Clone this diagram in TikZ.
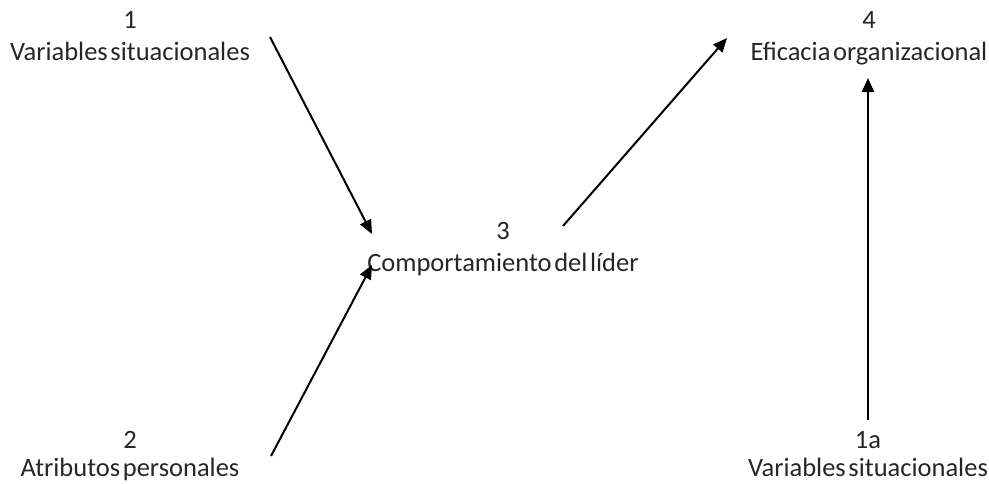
\documentclass[tikz,border=0pt]{standalone}
\usepackage{fontspec}
\setmainfont{Carlito}
\usetikzlibrary{arrows.meta}
\begin{document}
\begin{tikzpicture}[x=1pt,y=1pt,
  lbl/.style={inner sep=0pt,anchor=base,font=\fontsize{26.5}{31}\selectfont,text=black!85,
    execute at begin node={\spaceskip=0.1em\relax}},
  conn/.style={line width=2pt,-{Triangle[length=14pt,width=12pt]}}]
\useasboundingbox (0,0) rectangle (989,-483);
% labels
\node[lbl] (n1num) at (130,-28) {1};
\node[lbl] (n1) at (130,-60) {Variables situacionales};
\node[lbl] (n2num) at (130,-448) {2};
\node[lbl] (n2) at (130,-476) {Atributos personales};
\node[lbl] (n3num) at (503,-239) {3};
\node[lbl] (n3) at (503,-271) {Comportamiento del líder};
\node[lbl] (n4num) at (869,-28) {4};
\node[lbl] (n4) at (869,-60) {Eficacia organizacional};
\node[lbl] (n5num) at (868,-448) {1a};
\node[lbl] (n5) at (868,-476) {Variables situacionales};
% arrow end points
\coordinate (a1s) at (270,-37);
\coordinate (a1e) at (372,-234);
\coordinate (a2s) at (271,-456);
\coordinate (a2e) at (372,-265);
\coordinate (a3s) at (563,-226);
\coordinate (a3e) at (727,-38);
\coordinate (a4s) at (868,-420);
\coordinate (a4e) at (868,-78);
\draw[conn] (a1s) -- (a1e);
\draw[conn] (a2s) -- (a2e);
\draw[conn] (a3s) -- (a3e);
\draw[conn] (a4s) -- (a4e);
\end{tikzpicture}
\end{document}
